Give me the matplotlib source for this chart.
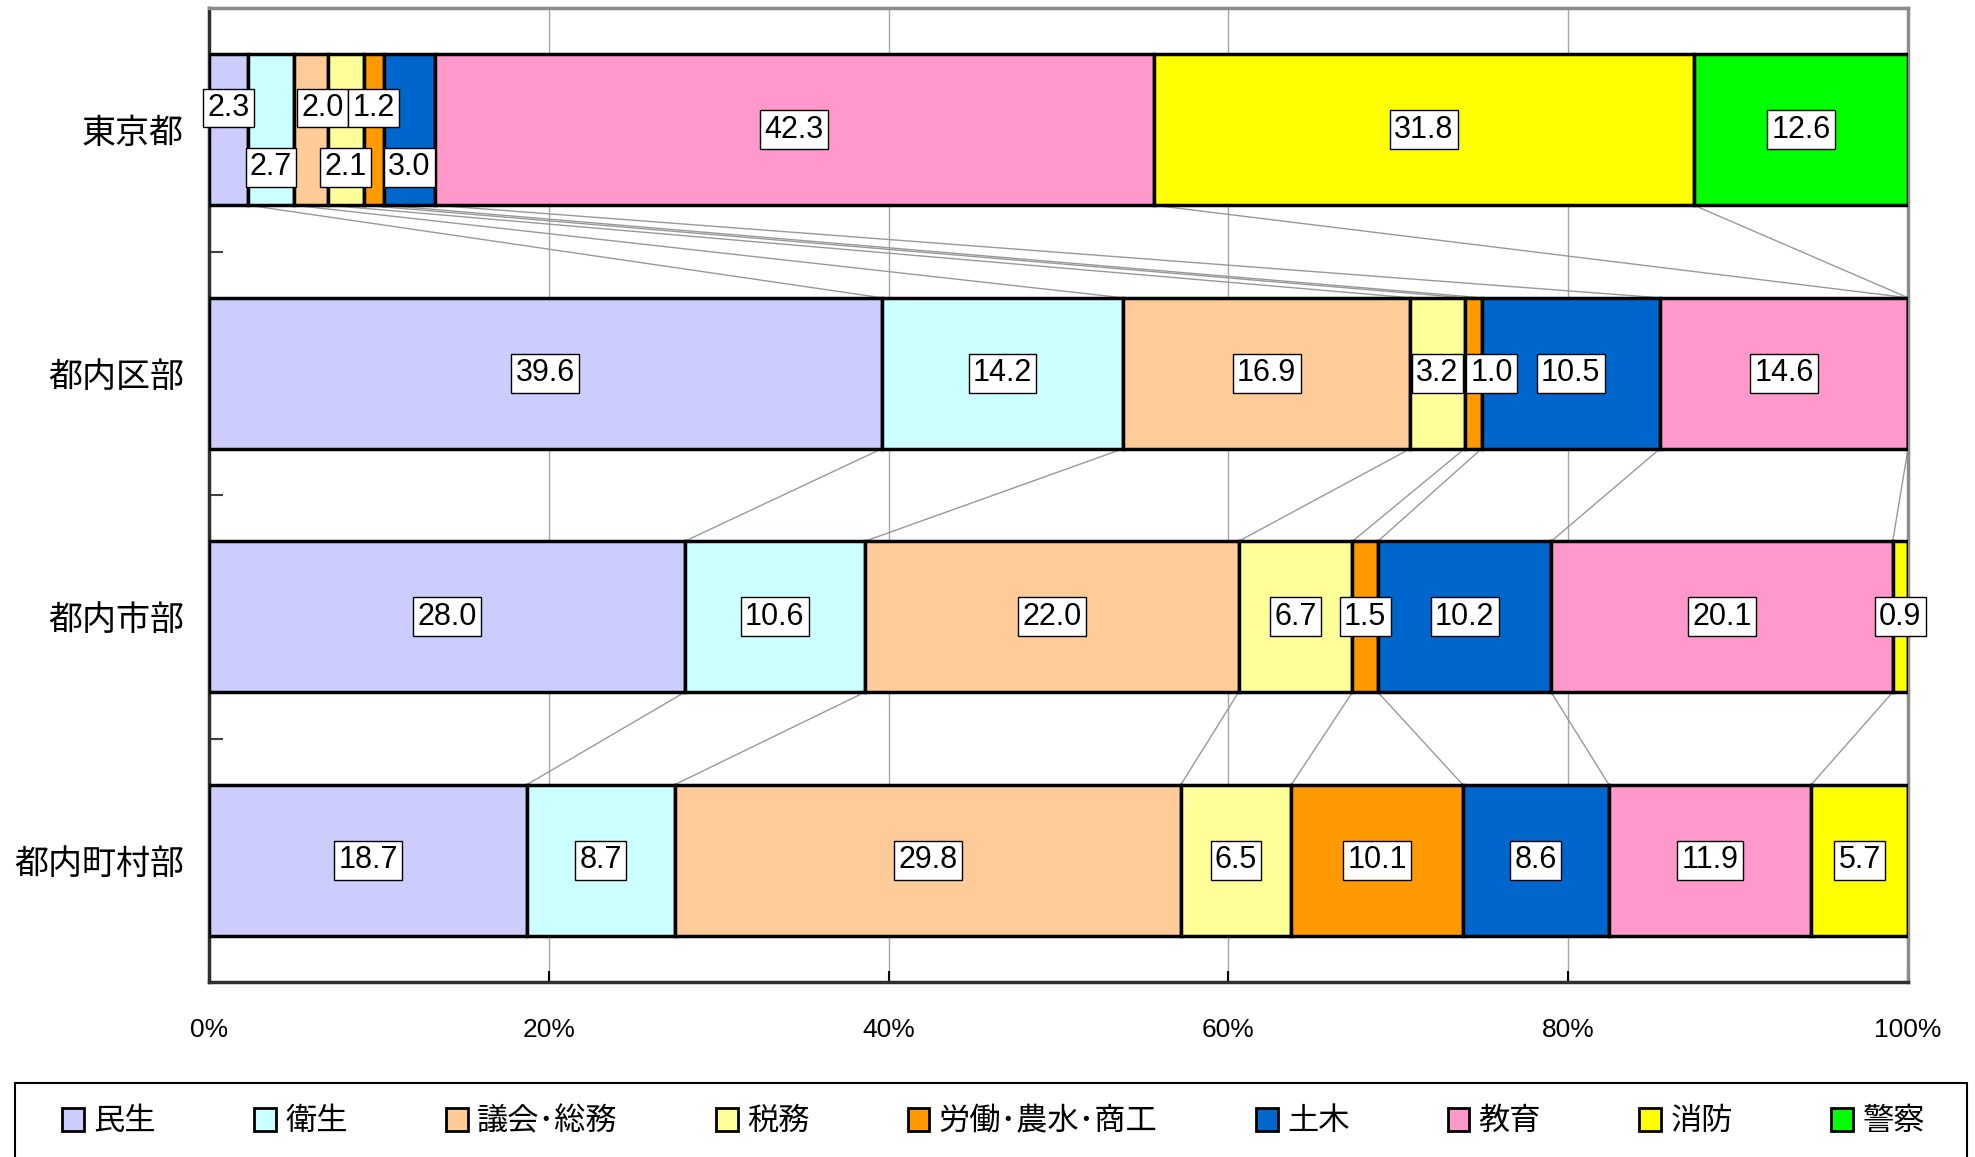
import matplotlib
matplotlib.use("Agg")
import matplotlib.pyplot as plt
from matplotlib import font_manager
from matplotlib.patches import Rectangle
import numpy as np

# --- Daten ---
regions = ["東京都", "都内区部", "都内市部", "都内町村部"]
series = ["民生", "衛生", "議会･総務", "税務", "労働･農水･商工",
          "土木", "教育", "消防", "警察"]
colors = ["#CCCCFF", "#CCFFFF", "#FFCC99", "#FFFF99", "#FF9900",
          "#0066CC", "#FF99CC", "#FFFF00", "#00FF00"]

tokyo = [2.3, 2.7, 2.0, 2.1, 1.2, 3.0, 42.3, 31.8, 12.6]
kubu = [39.6, 14.2, 16.9, 3.2, 1.0, 10.5, 14.6, 0.0, 0.0]
shibu = [28.0, 10.6, 22.0, 6.7, 1.5, 10.2, 20.1, 0.9, 0.0]
chouson = [18.7, 8.7, 29.8, 6.5, 10.1, 8.6, 11.9, 5.7, 0.0]
values = np.array([tokyo, kubu, shibu, chouson])

x_ticks = [0, 20, 40, 60, 80, 100]
x_ticklabels = ["0%", "20%", "40%", "60%", "80%", "100%"]

# Verschiebung einzelner Beschriftungen (Zeile, Serie) -> (dx, dy)
label_shift = {
    (0, 0): (0, -0.09), (0, 1): (0, 0.155), (0, 2): (0.7, -0.09),
    (0, 3): (0, 0.155), (0, 4): (0, -0.09), (0, 5): (0, 0.155),
    (1, 4): (1.1, 0),
}

installed = {f.name for f in font_manager.fontManager.ttflist}
num_font = "Liberation Sans Narrow" if "Liberation Sans Narrow" in installed else "Liberation Sans"
jp_font = ["Noto Sans CJK JP", "DejaVu Sans"]
plt.rcParams["font.family"] = jp_font

fig = plt.figure(figsize=(19.75, 11.57), dpi=100)
ax = fig.add_axes([209 / 1975, 1 - 982 / 1157, (1908 - 209) / 1975, (982 - 8) / 1157])

bar_h = 0.62
y = np.arange(len(regions))
left = np.zeros(len(regions))
for j, name in enumerate(series):
    w = values[:, j]
    ax.barh(y, w, left=left, height=bar_h, color=colors[j], edgecolor="black",
            linewidth=2.5, label=name, zorder=3)
    for i in range(len(regions)):
        if w[i] <= 0:
            continue
        dx, dy = label_shift.get((i, j), (0, 0))
        ax.text(left[i] + w[i] / 2 + dx, y[i] + dy, f"{w[i]:.1f}",
                ha="center", va="center", fontsize=22, family=num_font, zorder=5,
                bbox=dict(boxstyle="square,pad=0.14", fc="white", ec="black", lw=1))
    left = left + w

# Verbindungslinien zwischen den Balken
cum = np.cumsum(values, axis=1)
for i in range(len(regions) - 1):
    for j in range(len(series)):
        ax.plot([cum[i, j], cum[i + 1, j]], [y[i] + bar_h / 2, y[i + 1] - bar_h / 2],
                color="#999999", lw=1, zorder=2)

ax.set_xlim(0, 100)
ax.set_ylim(3.5, -0.5)
ax.set_xticks(x_ticks)
ax.set_xticklabels(x_ticklabels, family=num_font, fontsize=19)
ax.tick_params(axis="x", direction="in", length=8, width=1.5, pad=26)
ax.set_yticks(y)
ax.set_yticklabels(regions, fontsize=24.5)
ax.tick_params(axis="y", length=0, pad=18)
ax.set_yticks([0.5, 1.5, 2.5], minor=True)
ax.tick_params(axis="y", which="minor", direction="in", length=10, width=1.5, color="#404040")
ax.grid(axis="x", color="#A6A6A6", lw=1, zorder=0)
ax.set_axisbelow(True)

for s in ["left", "bottom"]:
    ax.spines[s].set_color("#303030")
    ax.spines[s].set_linewidth(2.5)
for s in ["top", "right"]:
    ax.spines[s].set_color("#8C8C8C")
    ax.spines[s].set_linewidth(2.5)

# Legende unten mit Rahmen
fig.patches.append(Rectangle((15 / 1975, -0.05), (1967 - 15) / 1975, 0.05 + (1157 - 1083) / 1157,
                             transform=fig.transFigure, fill=False, ec="black", lw=1.5))
handles, labels = ax.get_legend_handles_labels()
leg = fig.legend(handles, labels, ncol=9, loc="center left",
                 bbox_to_anchor=(62 / 1975, (1157 - 1121) / 1157, (1925 - 62) / 1975, 0),
                 mode="expand", frameon=False, fontsize=22.5, handlelength=0.7,
                 handleheight=0.75, handletextpad=0.3, borderaxespad=0, borderpad=0)
for h in leg.legend_handles:
    h.set_linewidth(2)

fig.savefig("out.png", dpi=100)
